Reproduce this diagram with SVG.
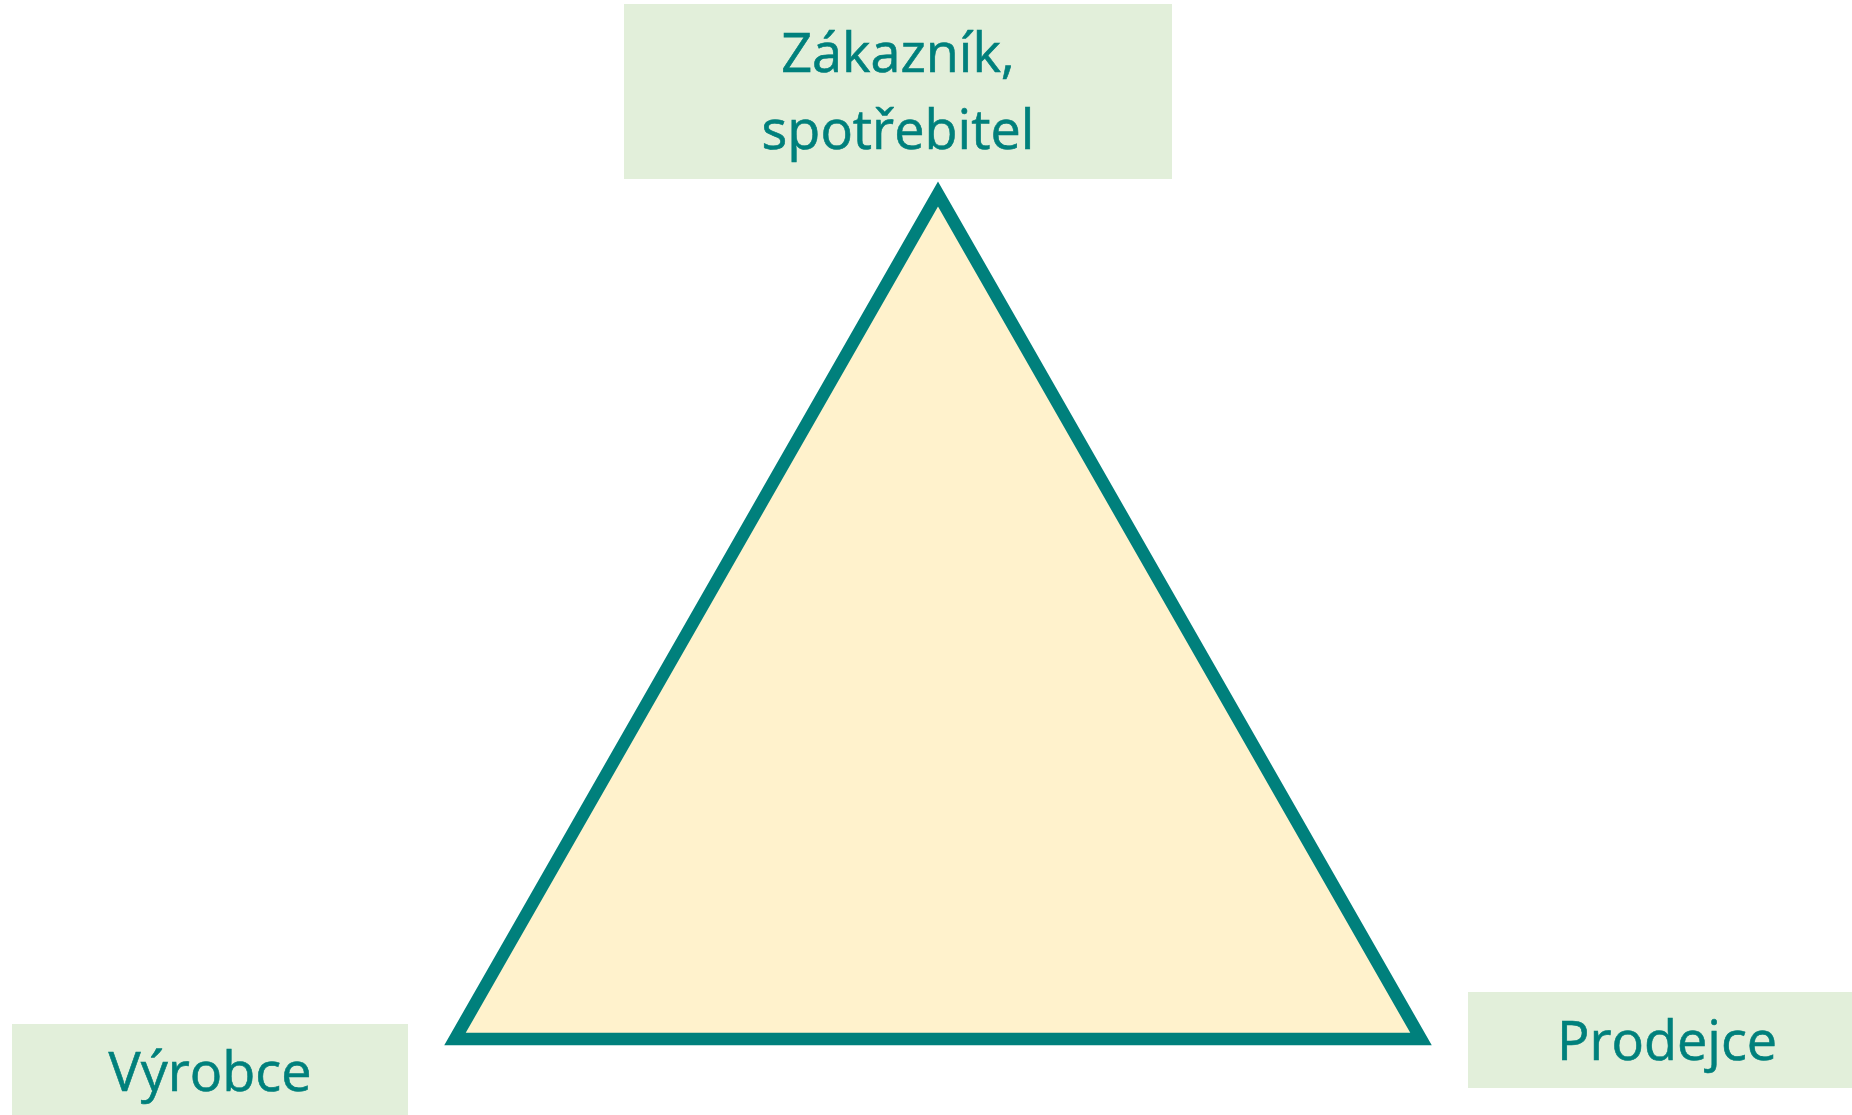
<svg xmlns="http://www.w3.org/2000/svg" width="1852" height="1115" viewBox="0 0 1852 1115">
<style>
.box{fill:#E2EFDA}
.lbl{font-family:"Open Sans","Noto Sans",sans-serif;font-size:54px;fill:#00807C;text-anchor:middle;stroke:#00807C;stroke-width:0.6}
.tri{fill:#FFF2CC;stroke:#00807C;stroke-width:12.5;stroke-linejoin:miter;stroke-miterlimit:10}
</style>
<rect width="1852" height="1115" fill="#FFFFFF"/>
<g id="connectors">
<polygon class="tri" points="938,194 1421,1039 455,1039"/>
</g>
<g id="node-zakaznik">
<rect class="box" x="624" y="4" width="548" height="175"/>
<text class="lbl" x="898" y="72">Zákazník,</text>
<text class="lbl" x="898" y="149">spotřebitel</text>
</g>
<g id="node-vyrobce">
<rect class="box" x="12" y="1024" width="396" height="91"/>
<text class="lbl" x="210" y="1091">Výrobce</text>
</g>
<g id="node-prodejce">
<rect class="box" x="1468" y="992" width="384" height="96"/>
<text class="lbl" x="1667" y="1060">Prodejce</text>
</g>
</svg>
